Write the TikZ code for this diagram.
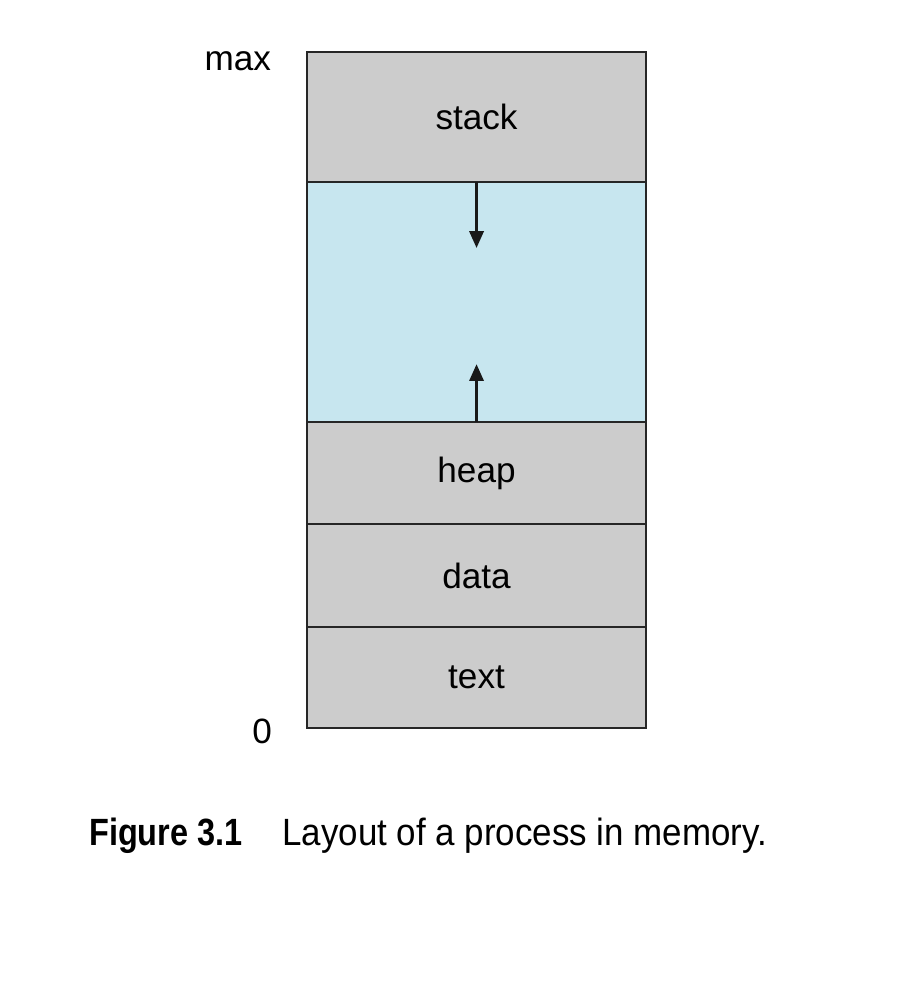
\documentclass[tikz,border=0pt]{standalone}
\usepackage{fontspec}
\setmainfont{Liberation Sans}
\usetikzlibrary{positioning,arrows.meta,calc}

\definecolor{seggray}{RGB}{204,204,204}
\definecolor{freeblue}{RGB}{199,230,239}

\begin{document}
\begin{tikzpicture}[x=0.025cm, y=-0.025cm, node distance=0pt,
  seg/.style={draw=black!85, line width=1.3pt, fill=seggray, inner sep=0pt, outer sep=0pt,
              minimum width=8.475cm, font=\fontsize{25}{30}\selectfont},
  growarrow/.style={-{Triangle[length=12pt,width=10pt]}, line width=2.2pt, black!90}]

\useasboundingbox (0,0) rectangle (907,1008);

\node[seg, minimum height=3.25cm, anchor=north west] (stack) at (307,52) {stack};
\node[seg, fill=freeblue, minimum height=6cm]  (free) [below=of stack] {};
\node[seg, minimum height=2.55cm]              (heap) [below=of free]  {heap};
\node[seg, minimum height=2.575cm]             (data) [below=of heap]  {data};
\node[seg, minimum height=2.525cm]             (text) [below=of data]  {text};

\node[anchor=east, font=\fontsize{25}{30}\selectfont] (max)  at (276,61)  {max};
\node[anchor=east, font=\fontsize{25}{30}\selectfont] (zero) at (277,731) {0};

\coordinate (downtip) at ($(free.north)+(0,66)$);
\coordinate (uptip)   at ($(free.south)+(0,-58)$);

\draw[growarrow] (free.north) -- (downtip);
\draw[growarrow] (free.south) -- (uptip);

% caption
\node[anchor=base west, inner sep=0pt, font=\fontsize{27}{32}\selectfont\bfseries] (fig) at (89,845) {\scalebox{0.855}[1]{Figure 3.1}};
\node[anchor=base west, inner sep=0pt, font=\fontsize{27}{32}\selectfont] (cap) at (282,845) {\scalebox{0.92}[1]{Layout of a process in memory.}};
\end{tikzpicture}
\end{document}
